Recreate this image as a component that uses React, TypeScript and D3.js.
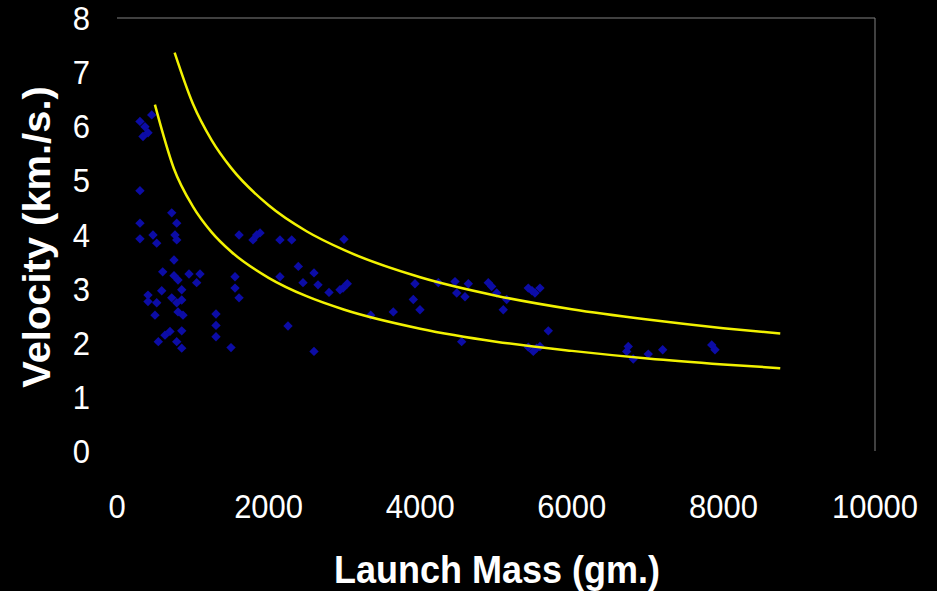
import React from "react";
import * as d3 from "d3";

const width = 937;
const height = 591;

// plot box in pixels
const left = 117;
const right = 875;
const top = 18;
const bottom = 451;

const xTicks = [0, 2000, 4000, 6000, 8000, 10000];
const yTicks = [0, 1, 2, 3, 4, 5, 6, 7, 8];

// launch mass (gm.) and velocity (km./s.) of each rocket
const mass = [
  303, 458, 369, 409, 343, 303, 722, 788, 303, 303, 475, 524, 765, 788, 752,
  603, 752, 805, 950, 1095, 1051, 409, 409, 590, 524, 722, 854, 854, 788, 805,
  871, 501, 699, 633, 545, 854, 788, 854, 1557, 1557, 1610, 1610, 1306, 1306,
  1306, 1504, 1843, 1887, 1794, 2150, 2305, 2995, 2392, 2150, 2599, 2454, 2652,
  2797, 2942, 3038, 2982, 2256, 2599, 3347, 3931, 4239, 4459, 4635, 4898, 4943,
  4482, 4591, 5141, 5009, 5096, 5426, 5514, 5580, 5475, 3909, 3997, 3645, 4547,
  5690, 5426, 5537, 5492, 5580, 6745, 6724, 6811, 7009, 7199, 7846, 7889,
];
const velocity = [
  6.09, 6.21, 5.99, 5.88, 5.81, 4.81, 4.4, 4.21, 4.21, 3.92, 3.99, 3.84, 3.99,
  3.9, 3.53, 3.31, 3.24, 3.16, 3.27, 3.27, 3.11, 2.88, 2.76, 2.96, 2.74, 2.83,
  2.98, 2.79, 2.74, 2.57, 2.51, 2.51, 2.21, 2.14, 2.02, 2.22, 2.02, 1.9, 3.22,
  3.01, 2.83, 3.99, 2.53, 2.32, 2.11, 1.91, 3.99, 4.03, 3.9, 3.9, 3.9, 3.91,
  3.41, 3.22, 3.29, 3.11, 3.07, 2.93, 2.98, 3.09, 3.01, 2.31, 1.84, 2.51, 3.09,
  3.11, 3.13, 3.09, 3.11, 3.04, 2.92, 2.85, 2.8, 2.92, 2.61, 3.01, 2.92, 3.01,
  2.96, 2.8, 2.61, 2.57, 2.02, 2.22, 1.92, 1.9, 1.84, 1.93, 1.93, 1.84, 1.7,
  1.79, 1.87, 1.96, 1.87,
];

// the two yellow bounding curves
const upperMass = [760, 1000, 1250, 1500, 2000, 2500, 3000, 4000, 5000, 6000, 7000, 8000, 8750];
const upperVel = [7.36, 6.42, 5.74, 5.24, 4.54, 4.06, 3.71, 3.21, 2.87, 2.62, 2.43, 2.27, 2.17];
const lowerMass = [500, 750, 1000, 1250, 1500, 2000, 2500, 3000, 4000, 5000, 6000, 7000, 8000, 8750];
const lowerVel = [6.4, 5.22, 4.52, 4.04, 3.69, 3.2, 2.86, 2.61, 2.26, 2.02, 1.85, 1.71, 1.6, 1.53];

const font = "'Liberation Sans', Arial, sans-serif";

const App = () => {
  const x = d3.scaleLinear().domain([0, 10000]).range([left, right]);
  const y = d3.scaleLinear().domain([0, 8]).range([bottom, top]);

  const line = d3
    .line<[number, number]>()
    .x(d => x(d[0]))
    .y(d => y(d[1]))
    .curve(d3.curveMonotoneX);

  const upper = upperMass.map((m, i) => [m, upperVel[i]] as [number, number]);
  const lower = lowerMass.map((m, i) => [m, lowerVel[i]] as [number, number]);
  const diamond = d3.symbol(d3.symbolSquare, 44)() || "";

  return (
    <div style={{ position: "fixed", left: 0, top: 0, width, height, background: "#000" }}>
      <svg width={width} height={height} style={{ display: "block" }}>
        <rect width={width} height={height} fill="#000" />
        <line x1={left} x2={right} y1={top} y2={top} stroke="#808080" />
        <line x1={right} x2={right} y1={top} y2={bottom} stroke="#808080" />

        {yTicks.map(t => (
          <text
            key={t}
            transform={`translate(90,${y(t) + 12}) scale(1,1.1)`}
            textAnchor="end"
            fill="#fff"
            fontFamily={font}
            fontSize={31}
          >
            {t}
          </text>
        ))}
        {xTicks.map(t => (
          <text
            key={t}
            transform={`translate(${x(t)},518) scale(1,1.1)`}
            textAnchor="middle"
            fill="#fff"
            fontFamily={font}
            fontSize={31}
          >
            {t}
          </text>
        ))}

        {mass.map((m, i) => (
          <path
            key={i}
            d={diamond}
            transform={`translate(${x(m)},${y(velocity[i])}) rotate(45)`}
            fill="#0c0ca6"
          />
        ))}

        <path d={line(upper) || ""} fill="none" stroke="#f2f200" strokeWidth={2.5} />
        <path d={line(lower) || ""} fill="none" stroke="#f2f200" strokeWidth={2.5} />

        <text
          transform="translate(497,583) scale(1,1.1)"
          textAnchor="middle"
          fill="#fff"
          fontFamily={font}
          fontWeight="bold"
          fontSize={36}
        >
          Launch Mass (gm.)
        </text>
        <text
          transform="translate(50,237) scale(1,1.05) rotate(-90)"
          textAnchor="middle"
          fill="#fff"
          fontFamily={font}
          fontWeight="bold"
          fontSize={38}
        >
          Velocity (km./s.)
        </text>
      </svg>
    </div>
  );
};

export default App;
